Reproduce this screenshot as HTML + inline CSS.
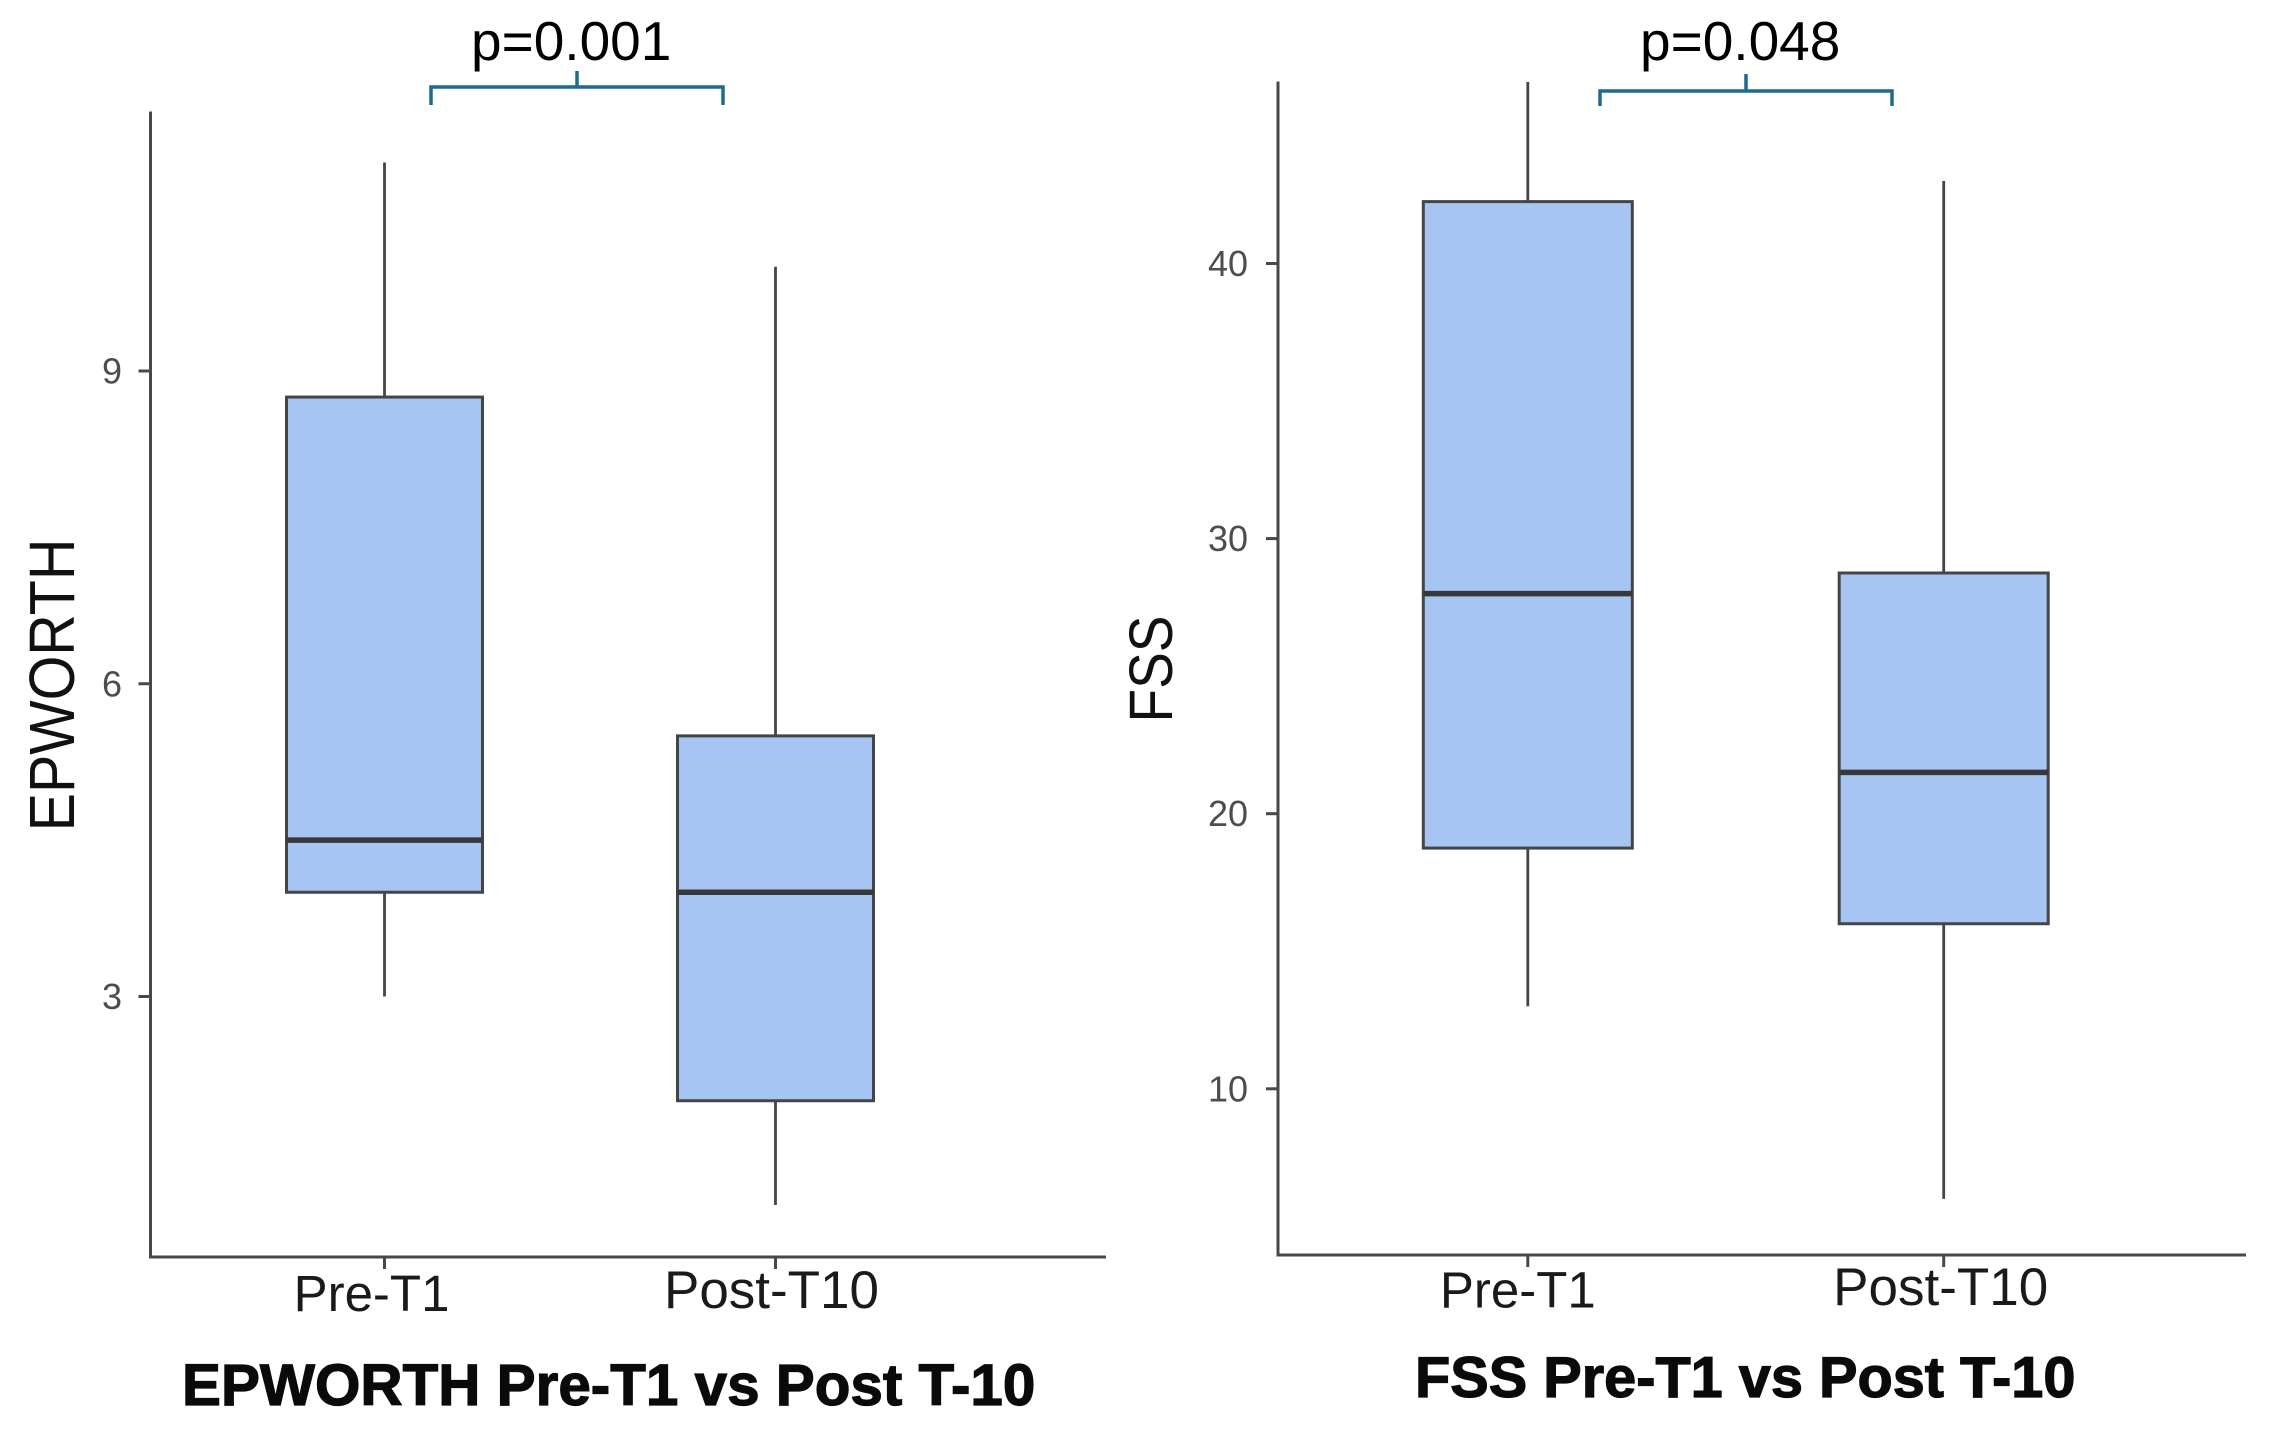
<!DOCTYPE html>
<html lang="en">
<head>
<meta charset="utf-8">
<title>EPWORTH and FSS Pre-T1 vs Post T-10</title>
<style>
html,body{margin:0;padding:0;background:#fff;width:2276px;height:1433px;overflow:hidden}
svg{display:block}
text{font-family:"Liberation Sans",Arial,sans-serif}
</style>
</head>
<body>
<svg id="figure" xmlns="http://www.w3.org/2000/svg" width="2276" height="1433" viewBox="0 0 2276 1433">
  <rect width="2276" height="1433" fill="#fff"/>

  <g id="chart-epworth">
    <text transform="translate(74 685) rotate(-90) scale(1 1.12)" text-anchor="middle" font-size="57.5" fill="#111">EPWORTH</text>
    <text x="182" y="1405" font-size="58.4" font-weight="700" fill="#0a0a0a" stroke="#0a0a0a" stroke-width="1.2">EPWORTH Pre-T1 vs Post T-10</text>
    <text x="471" y="60" font-size="55" fill="#000">p=0.001</text>
    <path d="M431 105V87H723V105M577 87V71" fill="none" stroke="#1f6a8f" stroke-width="3.5"/>
  </g>

  <g id="chart-fss">
    <text transform="translate(1172 669) rotate(-90) scale(1 1.12)" text-anchor="middle" font-size="55" fill="#111">FSS</text>
    <text x="1415" y="1397" font-size="57.7" font-weight="700" fill="#0a0a0a" stroke="#0a0a0a" stroke-width="1.2">FSS Pre-T1 vs Post T-10</text>
    <text x="1640" y="60" font-size="55" fill="#000">p=0.048</text>
    <path d="M1600 106V91H1892V106M1746 91V74" fill="none" stroke="#1f6a8f" stroke-width="3.5"/>
  </g>
</svg>

<script>
// ---- chart data ----
const categories = ["Pre-T1", "Post-T10"];

const epworthTicks = [3, 6, 9];
const epworthTickLabels = ["3", "6", "9"];
const epworthLow = [3, 1];
const epworthQ1 = [4, 2];
const epworthMedian = [4.5, 4];
const epworthQ3 = [8.75, 5.5];
const epworthHigh = [11, 10];

const fssTicks = [10, 20, 30, 40];
const fssTickLabels = ["10", "20", "30", "40"];
const fssLow = [13, 6];
const fssQ1 = [18.75, 16];
const fssMedian = [28, 21.5];
const fssQ3 = [42.25, 28.75];
const fssHigh = [46.6, 43];

// ---- drawing ----
const NS = "http://www.w3.org/2000/svg";
const AXIS = "#484848", BOX = "#454545", FILL = "#a6c5f2";

function linear(d0, d1, r0, r1) {
  return function (v) { return r0 + (v - d0) * (r1 - r0) / (d1 - d0); };
}
function make(parent, tag, attrs, text) {
  const e = document.createElementNS(NS, tag);
  for (const k in attrs) e.setAttribute(k, attrs[k]);
  if (text !== undefined) e.textContent = text;
  parent.appendChild(e);
  return e;
}

function drawChart(cfg) {
  const g = document.getElementById(cfg.id);
  const y = linear(cfg.domain[0], cfg.domain[1], cfg.range[0], cfg.range[1]);
  const x = linear(0, 1, cfg.centers[0], cfg.centers[1]);
  const p = cfg.prefix;

  const yAxis = make(g, "line", {x1: cfg.axisX, x2: cfg.axisX, y1: cfg.axisTop, y2: cfg.baseY + 1.5, stroke: AXIS, "stroke-width": 3});
  
  

  const xAxis = make(g, "line", {x1: cfg.axisX, x2: cfg.axisEnd, y1: cfg.baseY, y2: cfg.baseY, stroke: AXIS, "stroke-width": 3});
  
  

  cfg.ticks.forEach(function (t, i) {
    const tick = make(g, "line", {x1: cfg.axisX - 12, x2: cfg.axisX, y1: y(t), y2: y(t), stroke: AXIS, "stroke-width": 3});
    
    
    const label = make(g, "text", {x: cfg.tickLabelX, y: y(t) + 12.5, "text-anchor": "end", "font-size": 36, fill: "#4d4d4d"}, cfg.tickLabels[i]);
    
    
  });

  categories.forEach(function (c, i) {
    const cx = x(i);
    const slug = c.toLowerCase();

    const tick = make(g, "line", {x1: cx, x2: cx, y1: cfg.baseY, y2: cfg.baseY + 12, stroke: AXIS, "stroke-width": 3});
    
    

    const label = make(g, "text", {x: cx + cfg.labelDx[i], y: cfg.labelY[i], "text-anchor": "middle", "font-size": cfg.labelSize[i], fill: "#1a1a1a"}, c);
    
    

    const upper = make(g, "line", {x1: cx, x2: cx, y1: y(cfg.high[i]), y2: y(cfg.q3[i]), stroke: BOX, "stroke-width": 2.8});
    
    

    const lower = make(g, "line", {x1: cx, x2: cx, y1: y(cfg.q1[i]), y2: y(cfg.low[i]), stroke: BOX, "stroke-width": 2.8});
    
    

    const box = make(g, "rect", {x: cx - cfg.halfWidth, width: 2 * cfg.halfWidth, y: y(cfg.q3[i]), height: y(cfg.q1[i]) - y(cfg.q3[i]), fill: FILL, stroke: BOX, "stroke-width": 3});
    
    

    const med = make(g, "line", {x1: cx - cfg.halfWidth, x2: cx + cfg.halfWidth, y1: y(cfg.median[i]), y2: y(cfg.median[i]), stroke: "#383838", "stroke-width": 5.5});
    
    
  });
}

drawChart({
  id: "chart-epworth", prefix: "epworth",
  ticks: epworthTicks, tickLabels: epworthTickLabels,
  low: epworthLow, q1: epworthQ1, median: epworthMedian, q3: epworthQ3, high: epworthHigh,
  domain: [3, 9], range: [996.5, 371],
  centers: [384.5, 775.5], halfWidth: 98,
  axisX: 150.5, axisTop: 111.5, axisEnd: 1106, baseY: 1257,
  tickLabelX: 122, labelDx: [-13, -4], labelY: [1311, 1308], labelSize: [51, 53]
});

drawChart({
  id: "chart-fss", prefix: "fss",
  ticks: fssTicks, tickLabels: fssTickLabels,
  low: fssLow, q1: fssQ1, median: fssMedian, q3: fssQ3, high: fssHigh,
  domain: [10, 40], range: [1088.8, 263.5],
  centers: [1527.8, 1943.7], halfWidth: 104.5,
  axisX: 1278, axisTop: 81.5, axisEnd: 2246, baseY: 1255,
  tickLabelX: 1248, labelDx: [-10, -3], labelY: [1307.5, 1305], labelSize: [51, 53]
});
</script>
</body>
</html>
